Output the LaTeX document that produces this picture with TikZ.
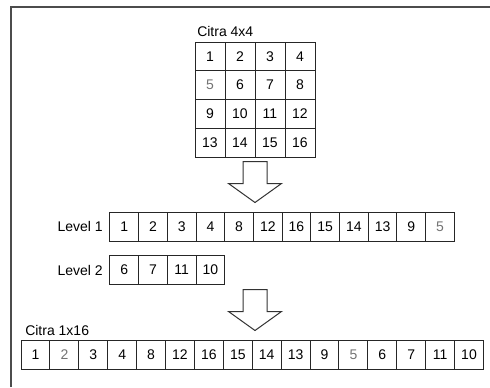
\documentclass[tikz,border=0pt]{standalone}
\usepackage{fontspec}
\setmainfont{Liberation Sans}
\usepackage{tikz}
\tikzset{
  sqcell/.style={draw=black!85,line width=0.75pt,inner sep=0pt,minimum width=22.5pt,minimum height=21.6pt,font=\fontsize{10.5}{12}\selectfont},
  lvcell/.style={draw=black!85,line width=0.75pt,inner sep=0pt,minimum width=21.5pt,minimum height=21.75pt,font=\fontsize{10.5}{12}\selectfont},
  rowcell/.style={draw=black!85,line width=0.75pt,inner sep=0pt,minimum width=21.7pt,minimum height=21.75pt,font=\fontsize{10.5}{12}\selectfont},
  faint/.style={text=black!55},
  label/.style={inner sep=0.75pt,font=\fontsize{10.5}{12}\selectfont},
  blockarrow/.style={draw=black!80,line width=0.75pt,fill=white}
}

\begin{document}
\begin{tikzpicture}[x=0.75pt,y=0.75pt,yscale=-1,xscale=1]
\useasboundingbox (0,0) rectangle (490,387);

%Straight Lines: frame
\draw[black!70,line width=1pt] (11,387) -- (11,7) -- (490,7);

% Text Node
\node[label,anchor=base west] (t44) at (196,36) {Citra 4x4};

%Shape: Grid 4x4
\node[sqcell] (g1) at (210,56.4) {1};
\node[sqcell] (g2) at (240,56.4) {2};
\node[sqcell] (g3) at (270,56.4) {3};
\node[sqcell] (g4) at (300,56.4) {4};
\node[sqcell,faint] (g5) at (210,85.1) {5};
\node[sqcell] (g6) at (240,85.1) {6};
\node[sqcell] (g7) at (270,85.1) {7};
\node[sqcell] (g8) at (300,85.1) {8};
\node[sqcell] (g9) at (210,113.9) {9};
\node[sqcell] (g10) at (240,113.9) {10};
\node[sqcell] (g11) at (270,113.9) {11};
\node[sqcell] (g12) at (300,113.9) {12};
\node[sqcell] (g13) at (210,142.6) {13};
\node[sqcell] (g14) at (240,142.6) {14};
\node[sqcell] (g15) at (270,142.6) {15};
\node[sqcell] (g16) at (300,142.6) {16};

%Shape: Down Arrow
\draw[blockarrow] (243,161.5) -- (267,161.5) -- (267,183.5) -- (281.5,183.5) -- (255,202.5) -- (228.5,183.5) -- (243,183.5) -- cycle;

% Text Node
\node[label,anchor=east] (lv1) at (104,226.5) {Level 1};

%Shape: Level 1 row
\node[lvcell] (a1) at (124.3,226.5) {1};
\node[lvcell] (a2) at (153,226.5) {2};
\node[lvcell] (a3) at (181.7,226.5) {3};
\node[lvcell] (a4) at (210.4,226.5) {4};
\node[lvcell] (a5) at (239.1,226.5) {8};
\node[lvcell] (a6) at (267.8,226.5) {12};
\node[lvcell] (a7) at (296.5,226.5) {16};
\node[lvcell] (a8) at (325.2,226.5) {15};
\node[lvcell] (a9) at (353.9,226.5) {14};
\node[lvcell] (a10) at (382.6,226.5) {13};
\node[lvcell] (a11) at (411.3,226.5) {9};
\node[lvcell,faint] (a12) at (440,226.5) {5};

% Text Node
\node[label,anchor=east] (lv2) at (104,270) {Level 2};

%Shape: Level 2 row
\node[lvcell] (b1) at (124.3,270) {6};
\node[lvcell] (b2) at (153,270) {7};
\node[lvcell] (b3) at (181.7,270) {11};
\node[lvcell] (b4) at (210.4,270) {10};

%Shape: Down Arrow
\draw[blockarrow] (243,289.5) -- (267,289.5) -- (267,311.5) -- (281.5,311.5) -- (255,330.5) -- (228.5,311.5) -- (243,311.5) -- cycle;

% Text Node
\node[label,anchor=base west] (t116) at (24,335) {Citra 1x16};

%Shape: 1x16 row
\node[rowcell] (c1) at (35.5,355) {1};
\node[rowcell,faint] (c2) at (64.4,355) {2};
\node[rowcell] (c3) at (93.3,355) {3};
\node[rowcell] (c4) at (122.2,355) {4};
\node[rowcell] (c5) at (151.1,355) {8};
\node[rowcell] (c6) at (180,355) {12};
\node[rowcell] (c7) at (208.9,355) {16};
\node[rowcell] (c8) at (237.8,355) {15};
\node[rowcell] (c9) at (266.7,355) {14};
\node[rowcell] (c10) at (295.6,355) {13};
\node[rowcell] (c11) at (324.5,355) {9};
\node[rowcell,faint] (c12) at (353.4,355) {5};
\node[rowcell] (c13) at (382.3,355) {6};
\node[rowcell] (c14) at (411.2,355) {7};
\node[rowcell] (c15) at (440.1,355) {11};
\node[rowcell] (c16) at (469,355) {10};

\end{tikzpicture}
\end{document}
